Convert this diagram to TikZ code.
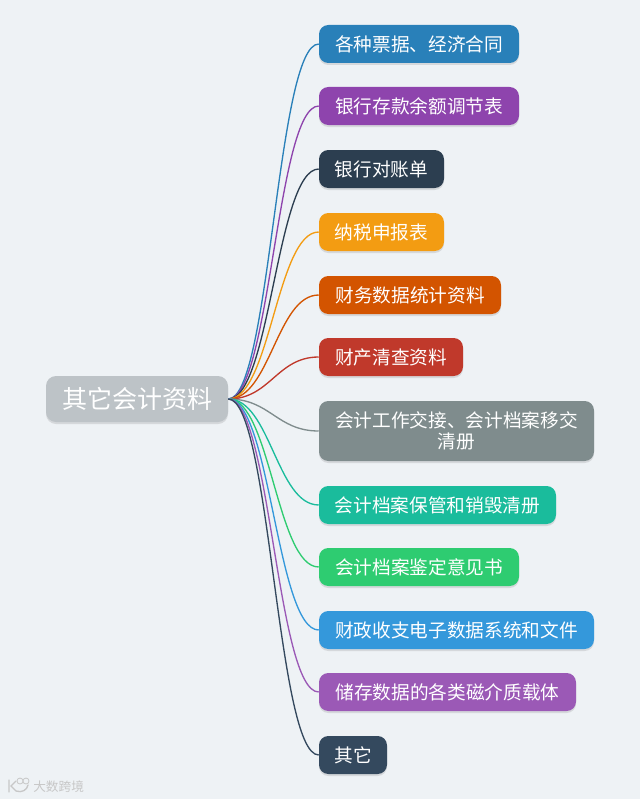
\documentclass[tikz,border=0pt]{standalone}
\usepackage{fontspec}
\setmainfont{Noto Sans CJK SC}
\usetikzlibrary{calc,shadows}
\definecolor{bgc}{HTML}{EEF2F5}
\definecolor{cA}{HTML}{2980B9}
\definecolor{cB}{HTML}{8E44AD}
\definecolor{cC}{HTML}{2C3E50}
\definecolor{cD}{HTML}{F39C12}
\definecolor{cE}{HTML}{D35400}
\definecolor{cF}{HTML}{C0392B}
\definecolor{cG}{HTML}{7F8C8D}
\definecolor{cH}{HTML}{1ABC9C}
\definecolor{cI}{HTML}{2ECC71}
\definecolor{cJ}{HTML}{3498DB}
\definecolor{cK}{HTML}{9B59B6}
\definecolor{cL}{HTML}{34495E}
\definecolor{cR}{HTML}{BDC3C7}
\tikzset{
  x=0.75pt,y=-0.75pt,
  softshadow/.style={drop shadow={shadow xshift=0pt,shadow yshift=-1.5pt,opacity=0.18,fill=black!60}},
  topicbox/.style={rounded corners=7pt,text=white,font=\fontsize{14}{15.75}\selectfont,align=center,inner sep=0pt,softshadow},
  rootbox/.style={rounded corners=7.5pt,fill=cR,text=white,font=\fontsize{18.75}{24}\selectfont,align=center,inner sep=0pt,minimum width=136.5pt,minimum height=34.5pt,softshadow},
  branch/.style={line width=1pt},
  mark text/.style={text=black!22,font=\fontsize{9.5}{11}\selectfont,inner sep=0pt}
}
\newcommand{\topicnode}[7]{\node[topicbox,text depth=0pt,fill=#6,minimum width=#4*0.75pt,minimum height=#5*0.75pt] (#1) at (#2,#3) {#7};}
\newcommand{\branchto}[2]{\draw[branch,#2] (root.east) .. controls ($(root.east)+(42,0)$) and ($(#1.west)+(-42,0)$) .. (#1.west);}
\begin{document}
\begin{tikzpicture}
\useasboundingbox (0,0) rectangle (640,799);
\fill[bgc] (0,0) rectangle (640,799);
\node[rootbox] (root) at (137,399) {其它会计资料};
\topicnode{a}{419}{44}{200}{38}{cA}{各种票据、经济合同}
\topicnode{b}{419}{106}{200}{38}{cB}{银行存款余额调节表}
\topicnode{c}{381.5}{169}{125}{38}{cC}{银行对账单}
\topicnode{d}{381.5}{232}{125}{38}{cD}{纳税申报表}
\topicnode{e}{410}{295}{182}{38}{cE}{财务数据统计资料}
\topicnode{f}{391}{357}{144}{38}{cF}{财产清查资料}
\node[topicbox,fill=cG,minimum width=275*0.75pt,minimum height=60*0.75pt,text width=255*0.75pt] (g) at (456.5,431) {会计工作交接、会计档案移交\\清册};
\topicnode{h}{437.5}{505}{237}{38}{cH}{会计档案保管和销毁清册}
\topicnode{i}{419}{567}{200}{38}{cI}{会计档案鉴定意见书}
\topicnode{j}{456.5}{630}{275}{38}{cJ}{财政收支电子数据系统和文件}
\topicnode{k}{447.5}{692}{257}{38}{cK}{储存数据的各类磁介质载体}
\topicnode{l}{353}{755}{68}{38}{cL}{其它}
\branchto{a}{cA}
\branchto{b}{cB}
\branchto{c}{cC}
\branchto{d}{cD}
\branchto{e}{cE}
\branchto{f}{cF}
\branchto{g}{cG}
\branchto{h}{cH}
\branchto{i}{cI}
\branchto{j}{cJ}
\branchto{k}{cK}
\branchto{l}{cL}
\node[mark text,anchor=west] (wm) at (33,787) {大数跨境};
\draw[black!22,line width=1pt,line cap=round] (9,780) -- (9,792) (16,781) -- (11,786) -- (16,791) .. controls (22,793) and (27,790) .. (28,785);
\draw[black!22,line width=0.6pt] (20,781) circle (3) (26,781) circle (3);
\end{tikzpicture}
\end{document}
